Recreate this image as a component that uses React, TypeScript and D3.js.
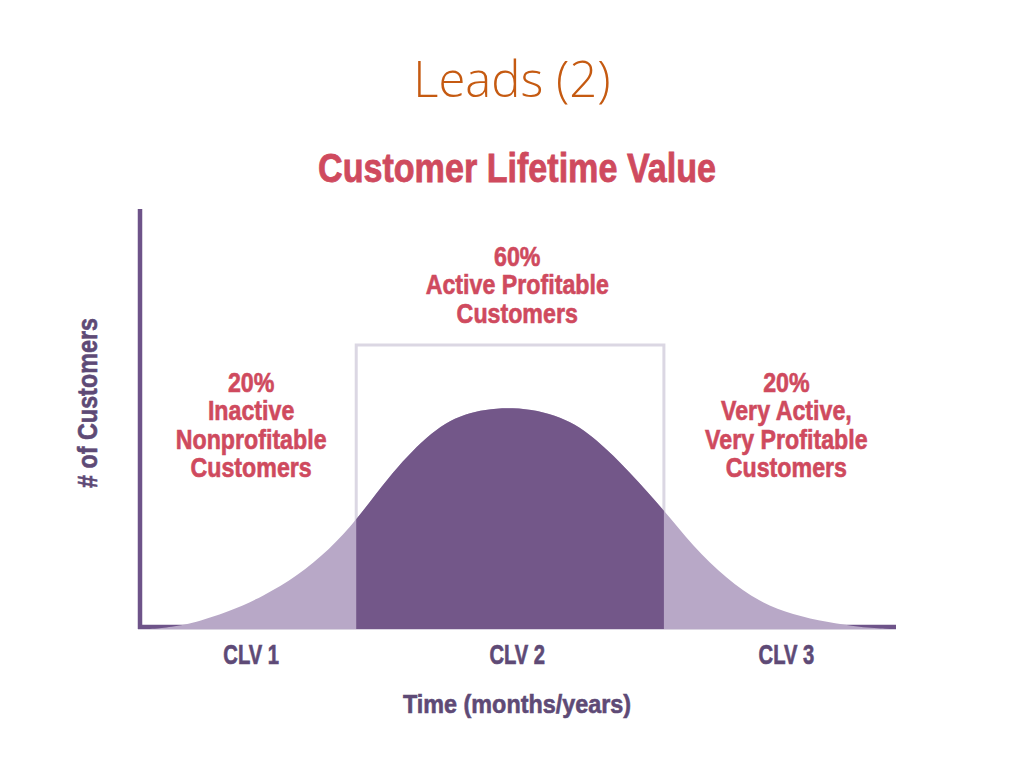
import React from 'react';
import * as d3 from 'd3';

// ---- data ----
const timeValues = [1.3, 3.3, 6.6, 11.9, 16.3, 20.8, 25.1, 28.6, 32.7, 38.0, 42.7, 49.3, 55.9, 60.4, 64.8, 69.3, 73.1, 77.6, 81.9, 86.4, 90.9, 95.2, 99.2];
const customerValues = [0, 0.3, 1.1, 4.2, 7.8, 12.6, 19.0, 25.8, 35.9, 46.3, 51.6, 53.2, 50.8, 45.3, 37.3, 28.3, 19.8, 11.9, 6.4, 3.4, 1.6, 0.4, 0];

const segmentLabels = ['CLV 1', 'CLV 2', 'CLV 3'];
const segmentCenters = [14.7, 49.9, 85.5];
const segmentShares = ['20%', '60%', '20%'];
const segmentDescriptions = [
  ['Inactive', 'Nonprofitable', 'Customers'],
  ['Active Profitable', 'Customers'],
  ['Very Active,', 'Very Profitable', 'Customers'],
];
const activeRange = [28.6, 69.3];
const activeBoxTop = 67.6;

const pageTitle = 'Leads (2)';
const chartTitle = 'Customer Lifetime Value';
const xAxisTitle = 'Time (months/years)';
const yAxisTitle = '# of Customers';

// ---- styles ----
const W = 1024;
const H = 768;
const RED = '#cf4a5e';
const AXIS = '#6e5389';
const DARK = '#735789';
const LIGHT = '#b8a8c7';
const BOX = '#dbd7e3';
const LABEL = '#5e4a76';
const BOLD_FONT = '"Liberation Sans", Arial, sans-serif';

export default function App() {
  const x = d3.scaleLinear().domain([0, 100]).range([140, 896]);
  const y = d3.scaleLinear().domain([0, 100]).range([629, 209]);

  const pts = timeValues.map((t, i) => [t, customerValues[i]] as [number, number]);
  const area = d3
    .area<[number, number]>()
    .x((d) => x(d[0]))
    .y0(y(0))
    .y1((d) => y(d[1]))
    .curve(d3.curveBasis);
  const areaPath = area(pts) || '';

  const bx0 = x(activeRange[0]);
  const bx1 = x(activeRange[1]);
  const by = y(activeBoxTop);

  const redLines = (i: number) => [segmentShares[i], ...segmentDescriptions[i]];
  const labelTop = [392, 266, 392];

  return (
    <svg
      width={W}
      height={H}
      style={{ position: 'absolute', left: 0, top: 0, background: '#fff' }}
    >
      <defs>
        <clipPath id="activeClip">
          <rect x={bx0} y={0} width={bx1 - bx0} height={H} />
        </clipPath>
      </defs>
      <rect x={0} y={0} width={W} height={H} fill="#fff" />

      <text
        x={512}
        y={97}
        textAnchor="middle"
        fontFamily='"Open Sans", sans-serif'
        fontWeight={300}
        fontSize={49}
        fill="#c55a11"
      >
        {pageTitle}
      </text>

      <text
        x={517}
        y={182}
        textAnchor="middle"
        fontFamily={BOLD_FONT}
        fontWeight="bold"
        fontSize={40}
        fill={RED}
        stroke={RED}
        strokeWidth={0.8}
        textLength={398}
        lengthAdjust="spacingAndGlyphs"
      >
        {chartTitle}
      </text>

      {/* active box */}
      <path
        d={`M${bx0},${y(0)} L${bx0},${by} L${bx1},${by} L${bx1},${y(0)}`}
        fill="none"
        stroke={BOX}
        strokeWidth={3}
      />

      {/* axes */}
      <line x1={140} x2={140} y1={y(0)} y2={209} stroke={AXIS} strokeWidth={4.5} />
      <line x1={138} x2={x(100)} y1={y(0) - 2} y2={y(0) - 2} stroke={AXIS} strokeWidth={4.5} />

      {/* curve fills */}
      <path d={areaPath} fill={LIGHT} />
      <path d={areaPath} fill={DARK} clipPath="url(#activeClip)" />

      {/* segment annotations */}
      {segmentCenters.map((c, i) => (
        <g key={i} transform={`translate(${x(c)},0)`}>
          {redLines(i).map((line, j) => (
            <text
              key={j}
              transform={`translate(0,${labelTop[i] + j * 28.3}) scale(0.86,1)`}
              textAnchor="middle"
              fontFamily={BOLD_FONT}
              fontWeight="bold"
              fontSize={27}
              fill={RED}
              stroke={RED}
              strokeWidth={0.6}
            >
              {line}
            </text>
          ))}
          <text
            transform={`translate(0,664) scale(0.72,1)`}
            textAnchor="middle"
            fontFamily={BOLD_FONT}
            fontWeight="bold"
            fontSize={28}
            fill={LABEL}
            stroke={LABEL}
            strokeWidth={0.7}
          >
            {segmentLabels[i]}
          </text>
        </g>
      ))}

      <text
        x={517}
        y={713}
        textAnchor="middle"
        fontFamily={BOLD_FONT}
        fontWeight="bold"
        fontSize={26}
        fill={LABEL}
        stroke={LABEL}
        strokeWidth={0.6}
        textLength={228}
        lengthAdjust="spacingAndGlyphs"
      >
        {xAxisTitle}
      </text>

      <text
        transform={`translate(97,403) rotate(-90)`}
        textAnchor="middle"
        fontFamily={BOLD_FONT}
        fontWeight="bold"
        fontSize={27}
        fill={LABEL}
        stroke={LABEL}
        strokeWidth={0.6}
        textLength={170}
        lengthAdjust="spacingAndGlyphs"
      >
        {yAxisTitle}
      </text>
    </svg>
  );
}
